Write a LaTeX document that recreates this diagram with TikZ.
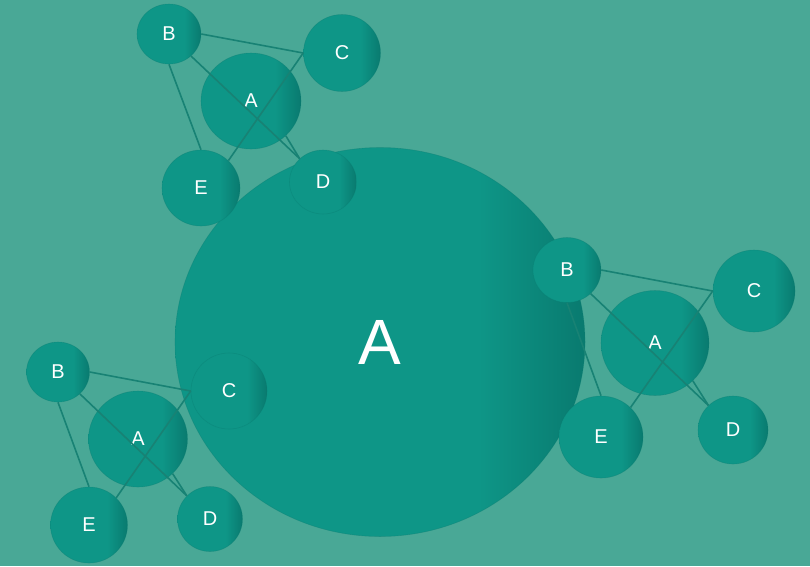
\documentclass[tikz,border=0pt]{standalone}
\usepackage{fontspec}
\setmainfont{Liberation Sans}
\usetikzlibrary{shapes.geometric}

\definecolor{bgteal}{RGB}{73,168,150}
\definecolor{ballteal}{RGB}{14,150,135}
\definecolor{balldark}{RGB}{9,122,111}
\definecolor{linkteal}{RGB}{24,130,116}

\pgfdeclarehorizontalshading{ballshade}{100bp}{color(0bp)=(ballteal); color(62bp)=(ballteal); color(75bp)=(balldark); color(100bp)=(balldark)}

\tikzset{
  ball/.style={ellipse, inner sep=0pt, shading=ballshade, text=white,
    draw=balldark, draw opacity=0.35, line width=0.6pt,
    font=\fontsize{20}{20}\selectfont},
  link/.style={draw=linkteal, line width=1.6pt}
}

\begin{document}
\begin{tikzpicture}[x=1pt, y=-1pt]
  \fill[bgteal] (0,0) rectangle (810,566);
  \useasboundingbox (0,0) rectangle (810,566);

  % big circle
  \node[ball, minimum width=410, minimum height=389,
    font=\fontsize{64}{64}\selectfont] (big) at (380,342) {A};

  % top group
  \node[ball, minimum width=100, minimum height=96] (tA) at (251,101) {A};
  \node[ball, minimum width=64, minimum height=60] (tB) at (169,34) {B};
  \node[ball, minimum width=77, minimum height=77] (tC) at (342,53) {C};
  \node[ball, minimum width=67, minimum height=64] (tD) at (323,182) {D};
  \node[ball, minimum width=78, minimum height=76] (tE) at (201,188) {E};

  % right group
  \node[ball, minimum width=108, minimum height=105] (rA) at (655,343) {A};
  \node[ball, minimum width=68, minimum height=65] (rB) at (567,270) {B};
  \node[ball, minimum width=82, minimum height=82] (rC) at (754,291) {C};
  \node[ball, minimum width=70, minimum height=68] (rD) at (733,430) {D};
  \node[ball, minimum width=84, minimum height=82] (rE) at (601,437) {E};

  % lower left group
  \node[ball, minimum width=99, minimum height=96] (lA) at (138,439) {A};
  \node[ball, minimum width=63, minimum height=60] (lB) at (58,372) {B};
  \node[ball, minimum width=76, minimum height=76] (lC) at (229,391) {C};
  \node[ball, minimum width=65, minimum height=65] (lD) at (210,519) {D};
  \node[ball, minimum width=77, minimum height=76] (lE) at (89,525) {E};

  % links, same pattern in each group
  \foreach \g in {t,r,l} {
    \draw[link] (\g B.east) -- (\g C.west);
    \draw[link] (\g B.south) -- (\g E.north);
    \draw[link] (\g B.-45) -- (\g D.135);
    \draw[link] (\g C.west) -- (\g E.45);
    \draw[link] (\g A.-45) -- (\g D.135);
  }
\end{tikzpicture}
\end{document}
